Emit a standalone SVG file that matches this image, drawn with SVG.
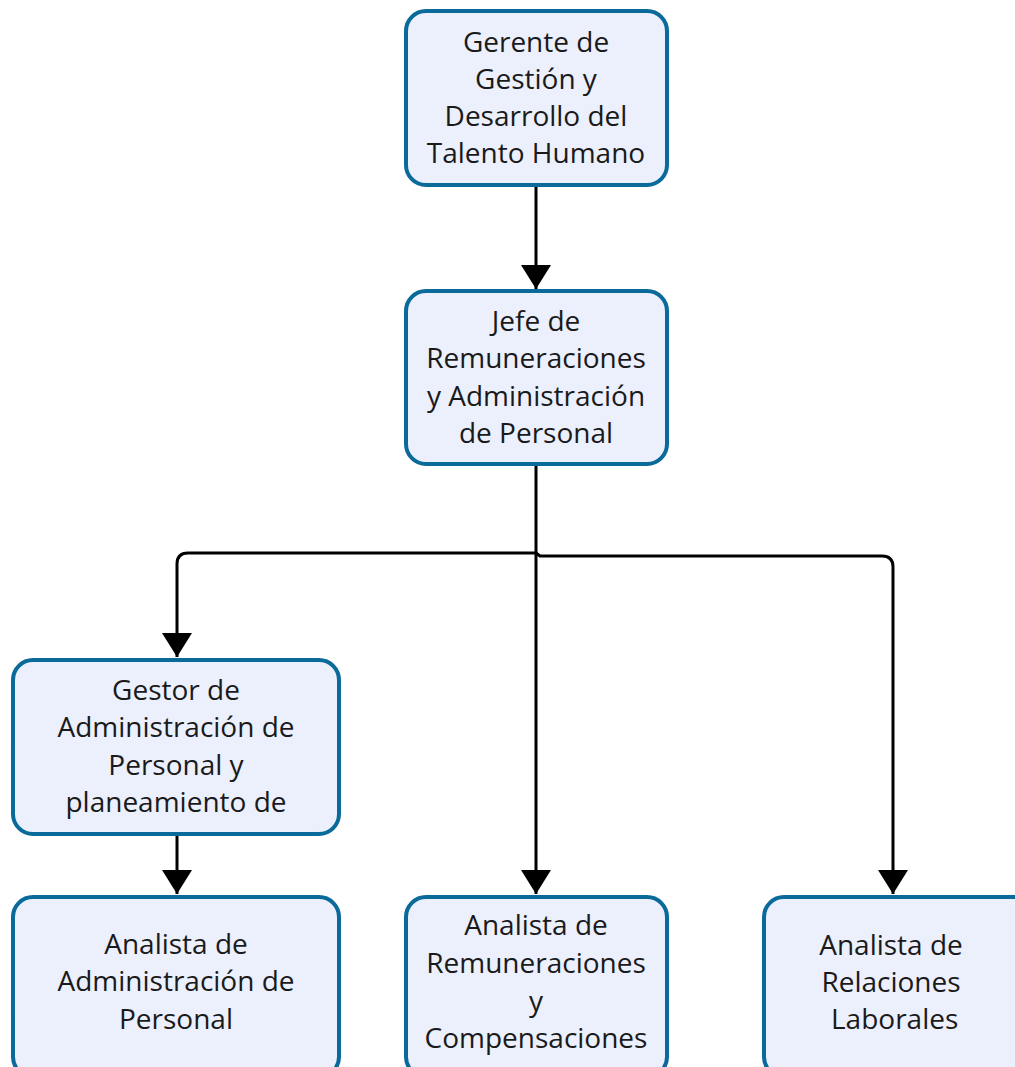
<svg xmlns="http://www.w3.org/2000/svg" width="1015" height="1067" viewBox="0 0 1015 1067">
<style>
.box{fill:#ECEFFC;stroke:#0A6A9A;stroke-width:4}
.t{font-family:"Open Sans","Noto Sans",sans-serif;font-size:28px;fill:#1a1a1a;text-anchor:middle}
.c{fill:none;stroke:#000;stroke-width:3}
</style>
<defs>
<marker id="ah" viewBox="0 0 24 30" refX="24" refY="15" markerWidth="24" markerHeight="30" markerUnits="userSpaceOnUse" orient="auto">
<path d="M0,0 L24,15 L0,30 Z" fill="#000"/>
</marker>
</defs>
<g id="connectors">
<path class="c" d="M536,186 V289" marker-end="url(#ah)"/>
<path class="c" d="M536,465 V553 H188 Q177,553 177,564 V657" marker-end="url(#ah)"/>
<path class="c" d="M536,553 V894" marker-end="url(#ah)"/>
<path class="c" d="M536,553 L540,556 H882 Q893,556 893,567 V894" marker-end="url(#ah)"/>
<path class="c" d="M177,835 V894" marker-end="url(#ah)"/>
</g>
<g id="n1">
<rect class="box" x="406" y="11" width="261" height="174" rx="20"/>
<text class="t"><tspan x="536" y="52">Gerente de</tspan><tspan x="536" y="89">Gestión y</tspan><tspan x="536" y="126">Desarrollo del</tspan><tspan x="536" y="163">Talento Humano</tspan></text>
</g>
<g id="n2">
<rect class="box" x="406" y="291" width="261" height="173" rx="20"/>
<text class="t"><tspan x="536" y="331">Jefe de</tspan><tspan x="536" y="368">Remuneraciones</tspan><tspan x="536" y="406">y Administración</tspan><tspan x="536" y="443">de Personal</tspan></text>
</g>
<g id="n3">
<rect class="box" x="13" y="660" width="326" height="174" rx="20"/>
<text class="t"><tspan x="176" y="700">Gestor de</tspan><tspan x="176" y="737">Administración de</tspan><tspan x="176" y="775">Personal y</tspan><tspan x="176" y="812">planeamiento de</tspan></text>
</g>
<g id="n4">
<rect class="box" x="13" y="897" width="326" height="180" rx="20"/>
<text class="t"><tspan x="176" y="954">Analista de</tspan><tspan x="176" y="991">Administración de</tspan><tspan x="176" y="1029">Personal</tspan></text>
</g>
<g id="n5">
<rect class="box" x="406" y="897" width="261" height="180" rx="20"/>
<text class="t"><tspan x="536" y="935">Analista de</tspan><tspan x="536" y="973">Remuneraciones</tspan><tspan x="536" y="1011">y</tspan><tspan x="536" y="1048">Compensaciones</tspan></text>
</g>
<g id="n6">
<rect class="box" x="764" y="897" width="270" height="180" rx="20"/>
<text class="t"><tspan x="891" y="955">Analista de</tspan><tspan x="891" y="992">Relaciones</tspan><tspan x="891" y="1029"> Laborales</tspan></text>
</g>
</svg>
